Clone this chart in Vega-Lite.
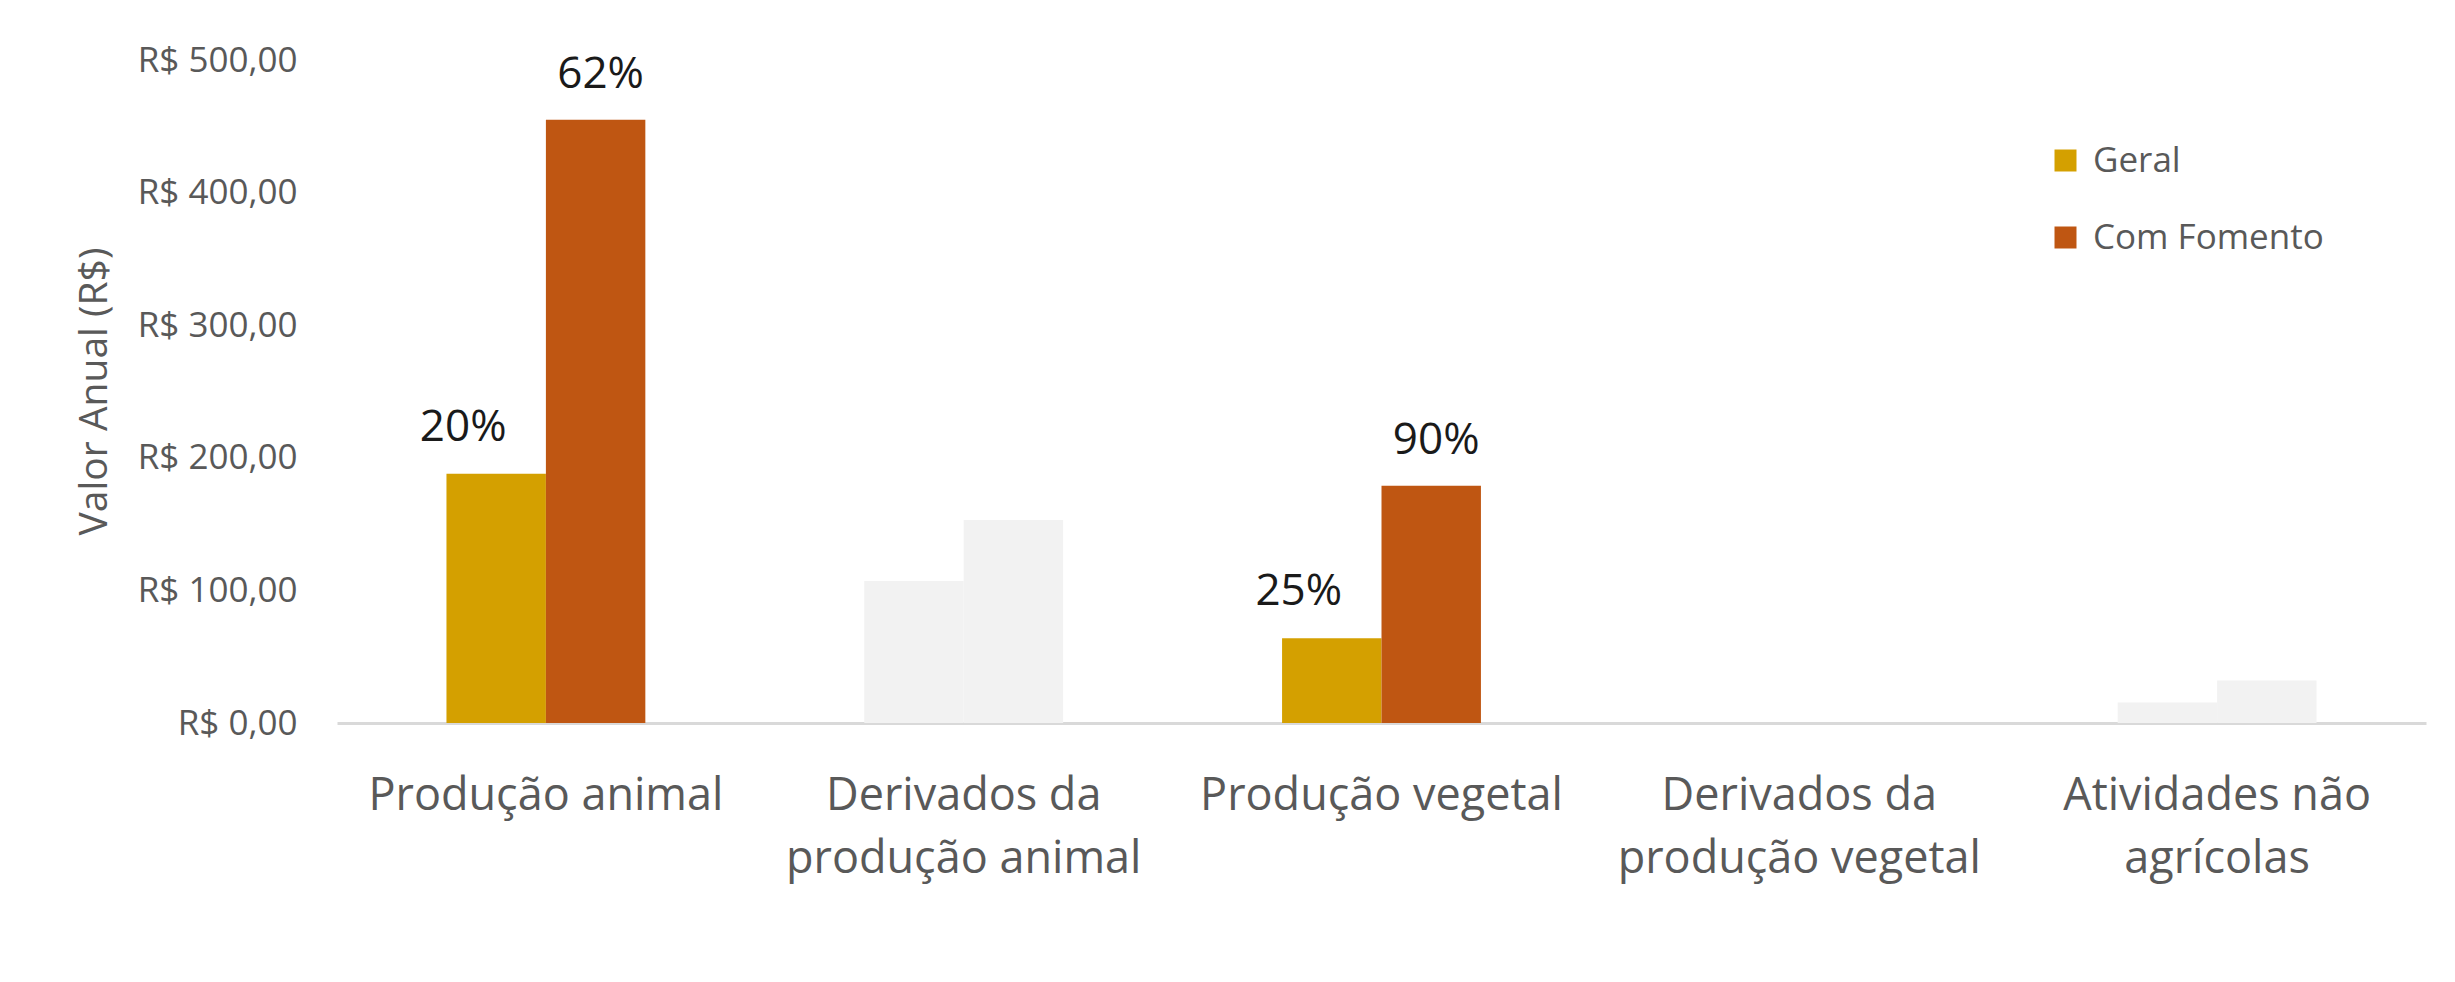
{
  "$schema": "https://vega.github.io/schema/vega-lite/v6.json",
  "width": 2089,
  "height": 663,
  "autosize": {"type": "none"},
  "padding": {"left": 337, "top": 60, "right": 29, "bottom": 199},
  "background": "#ffffff",
  "config": {
    "font": "Open Sans",
    "view": {"stroke": null}
  },
  "data": {
    "values": [
      {"categoria": "Produção animal", "serie": "Geral", "cor": "Geral", "valor": 188, "rotulo": "20%"},
      {"categoria": "Produção animal", "serie": "Com Fomento", "cor": "Com Fomento", "valor": 455, "rotulo": "62%"},
      {"categoria": "Derivados da produção animal", "serie": "Geral", "cor": "Outros", "valor": 107, "rotulo": ""},
      {"categoria": "Derivados da produção animal", "serie": "Com Fomento", "cor": "Outros", "valor": 153, "rotulo": ""},
      {"categoria": "Produção vegetal", "serie": "Geral", "cor": "Geral", "valor": 64, "rotulo": "25%"},
      {"categoria": "Produção vegetal", "serie": "Com Fomento", "cor": "Com Fomento", "valor": 179, "rotulo": "90%"},
      {"categoria": "Derivados da produção vegetal", "serie": "Geral", "cor": "Outros", "valor": 0, "rotulo": ""},
      {"categoria": "Derivados da produção vegetal", "serie": "Com Fomento", "cor": "Outros", "valor": 0, "rotulo": ""},
      {"categoria": "Atividades não agrícolas", "serie": "Geral", "cor": "Outros", "valor": 15.5, "rotulo": ""},
      {"categoria": "Atividades não agrícolas", "serie": "Com Fomento", "cor": "Outros", "valor": 32, "rotulo": ""}
    ]
  },
  "encoding": {
    "x": {
      "field": "categoria",
      "type": "nominal",
      "sort": null,
      "scale": {"paddingInner": 0.524, "paddingOuter": 0.262},
      "axis": {
        "title": null,
        "labelAngle": 0,
        "labelFontSize": 45,
        "labelColor": "#595959",
        "labelPadding": 50,
        "labelLineHeight": 63,
        "labelBaseline": "top",
        "labelLimit": 0,
        "ticks": false,
        "domainColor": "#d9d9d9",
        "domainWidth": 3,
        "labelExpr": "indexof(datum.label, 'Derivados da ') == 0 ? ['Derivados da', substring(datum.label, 13)] : indexof(datum.label, 'Atividades não ') == 0 ? ['Atividades não', substring(datum.label, 15)] : datum.label"
      }
    },
    "xOffset": {"field": "serie", "type": "nominal", "sort": ["Geral", "Com Fomento"]},
    "y": {
      "field": "valor",
      "type": "quantitative",
      "scale": {"domain": [0, 500], "nice": false},
      "axis": {
        "title": "Valor Anual (R$)",
        "titleFontSize": 39,
        "titleFontWeight": "normal",
        "titleColor": "#595959",
        "titleAngle": 270,
        "titleAlign": "center",
        "titleBaseline": "alphabetic",
        "titleX": -231,
        "titleY": 331,
        "values": [0, 100, 200, 300, 400, 500],
        "labelExpr": "'R$ ' + replace(format(datum.value, '.2f'), '.', ',')",
        "labelFontSize": 35,
        "labelColor": "#595959",
        "labelPadding": 40,
        "labelLimit": 0,
        "ticks": false,
        "domain": false,
        "grid": false
      }
    }
  },
  "layer": [
    {
      "mark": {"type": "bar"},
      "encoding": {
        "color": {
          "field": "cor",
          "type": "nominal",
          "scale": {"domain": ["Geral", "Com Fomento", "Outros"], "range": ["#d4a000", "#bf5612", "#f2f2f2"]},
          "legend": {
            "values": ["Geral", "Com Fomento"],
            "title": null,
            "orient": "none",
            "legendX": 1711,
            "legendY": 83,
            "padding": 0,
            "symbolType": "square",
            "symbolSize": 484,
            "symbolStrokeWidth": 0,
            "labelFontSize": 35,
            "labelColor": "#595959",
            "labelOffset": 10,
            "labelLimit": 0,
            "rowPadding": 41
          }
        }
      }
    },
    {
      "transform": [{"filter": "datum.serie == 'Geral'"}],
      "mark": {"type": "text", "fontSize": 44, "color": "#1a1a1a", "baseline": "alphabetic", "dy": -33, "dx": -33},
      "encoding": {"text": {"field": "rotulo"}}
    },
    {
      "transform": [{"filter": "datum.serie == 'Com Fomento'"}],
      "mark": {"type": "text", "fontSize": 44, "color": "#1a1a1a", "baseline": "alphabetic", "dy": -32, "dx": 5},
      "encoding": {"text": {"field": "rotulo"}}
    }
  ]
}
